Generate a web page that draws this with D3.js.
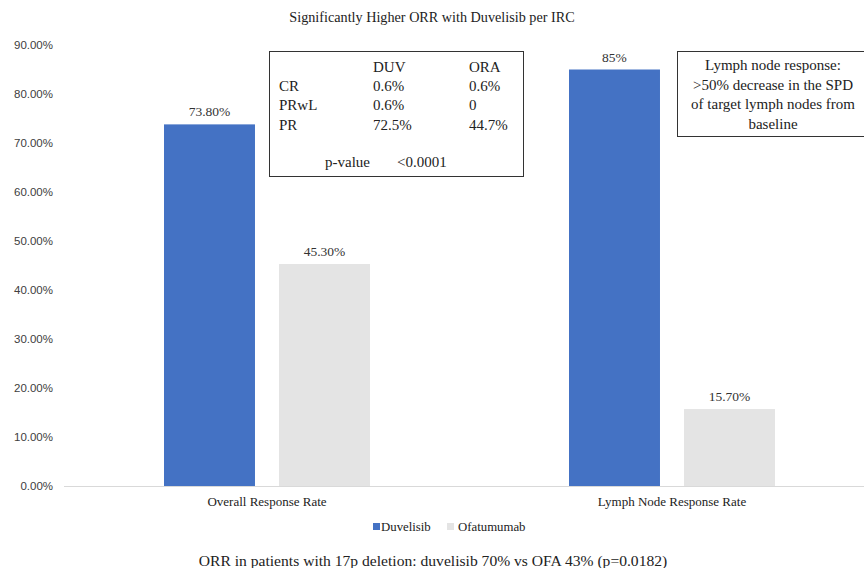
<!DOCTYPE html>
<html>
<head>
<meta charset="utf-8">
<script src="https://cdn.jsdelivr.net/npm/d3@7"></script>
<style>
body{margin:0;background:#fff}
svg{display:block}
</style>
</head>
<body>
<svg id="chart" width="864" height="568"></svg>
<script>
// chart data
var categories = ['Overall Response Rate', 'Lymph Node Response Rate']
var series = ['Duvelisib', 'Ofatumumab']
var duvelisib = [0.738, 0.85]
var ofatumumab = [0.453, 0.157]
var valueLabels = [['73.80%', '45.30%'], ['85%', '15.70%']]
var yTicks = [0, 0.1, 0.2, 0.3, 0.4, 0.5, 0.6, 0.7, 0.8, 0.9]
var tableHead = ['', 'DUV', 'ORA']
var tableRows = [['CR', '0.6%', '0.6%'], ['PRwL', '0.6%', '0'], ['PR', '72.5%', '44.7%']]
var pValue = ['p-value', '<0.0001']
var noteLines = ['Lymph node response:', '>50% decrease in the SPD', 'of target lymph nodes from', 'baseline']
var title = 'Significantly Higher ORR with Duvelisib per IRC'
var footer = 'ORR in patients with 17p deletion: duvelisib 70% vs OFA 43% (p=0.0182)'

var SERIF = '"Liberation Serif", "Times New Roman", Times, serif'

function draw(){
	var svg = d3.select('svg#chart')
	var colors = {Duvelisib: '#4472c4', Ofatumumab: '#e4e4e4'}

	var y = d3.scaleLinear()
		.domain([0, 0.9])
		.range([486, 45])
	var x = d3.scaleBand()
		.domain(categories)
		.range([64.5, 874.5])
	var xs = d3.scaleBand()
		.domain(series)
		.range([99.5, 305.5])
		.paddingInner(0.209)

	var rows = categories.map(function(c, i){
		return {cat: c, vals: [duvelisib[i], ofatumumab[i]], labels: valueLabels[i]}
	})

	function stext(sel, size){
		return sel.style('font-family', SERIF).style('font-size', size).style('fill', '#222')
	}

	// title
	svg.append('text')
		.attr('x', 432).attr('y', 22)
		.attr('text-anchor', 'middle')
		.call(stext, '14.2px')
		.text(title)

	// y axis labels
	var yAxis = d3.axisLeft(y)
		.tickValues(yTicks)
		.tickFormat(d3.format('.2%'))
		.tickSize(0)
		.tickPadding(0)
	var ga = svg.append('g')
		.attr('transform', 'translate(53,0)')
		.call(yAxis)
	ga.select('.domain').remove()
	ga.selectAll('text')
		.style('font-family', '"Liberation Sans", Arial, sans-serif')
		.style('font-size', '11.5px')
		.style('fill', '#404040')

	// bars
	var groups = svg.selectAll('g.cat')
		.data(rows)
		.enter()
		.append('g')
		.attr('class', 'cat')
		.attr('transform', function(d){return 'translate(' + x.step() * categories.indexOf(d.cat) + ',0)'})

	function barData(d){
		return d.vals.map(function(v, j){return {s: series[j], v: v, label: d.labels[j]}})
	}

	groups.selectAll('rect')
		.data(barData)
		.enter()
		.append('rect')
		.attr('x', function(d){return x.range()[0] + xs(d.s)})
		.attr('width', xs.bandwidth())
		.attr('y', function(d){return y(d.v)})
		.attr('height', function(d){return y(0) - y(d.v)})
		.style('fill', function(d){return colors[d.s]})

	groups.selectAll('text.val')
		.data(barData)
		.enter()
		.append('text')
		.attr('class', 'val')
		.attr('x', function(d){return x.range()[0] + xs(d.s) + xs.bandwidth() / 2})
		.attr('y', function(d){return y(d.v) - 8})
		.attr('text-anchor', 'middle')
		.call(stext, '13.5px')
		.style('fill', '#333')
		.text(function(d){return d.label})

	// baseline
	svg.append('line')
		.attr('x1', 64).attr('x2', 864)
		.attr('y1', y(0) + 0.5).attr('y2', y(0) + 0.5)
		.style('stroke', '#d9d9d9')
		.style('stroke-width', 1)

	// category labels
	svg.selectAll('text.catlab')
		.data(categories)
		.enter()
		.append('text')
		.attr('class', 'catlab')
		.attr('x', function(d){return x(d) + x.bandwidth() / 2})
		.attr('y', 506)
		.attr('text-anchor', 'middle')
		.call(stext, '13px')
		.text(function(d){return d})

	// legend
	var legX = [373, 447]
	var lg = svg.selectAll('g.leg')
		.data(series)
		.enter()
		.append('g')
		.attr('class', 'leg')
		.attr('transform', function(d, i){return 'translate(' + legX[i] + ',523)'})
	lg.append('rect')
		.attr('width', 7).attr('height', 7)
		.style('fill', function(d){return colors[d]})
	lg.append('text')
		.attr('x', function(d, i){return i === 0 ? 8 : 11})
		.attr('y', 8)
		.call(stext, '12.8px')
		.text(function(d){return d})

	// table box
	svg.append('rect')
		.attr('x', 269.5).attr('y', 51.5)
		.attr('width', 254).attr('height', 125)
		.style('fill', '#fff')
		.style('stroke', '#333')
	var colX = [279, 373, 469]
	var rowY = [72, 91, 110, 130]
	var all = [tableHead].concat(tableRows)
	all.forEach(function(r, i){
		r.forEach(function(c, j){
			svg.append('text')
				.attr('x', colX[j]).attr('y', rowY[i])
				.call(stext, '15px')
				.text(c)
		})
	})
	svg.append('text')
		.attr('x', 325).attr('y', 167)
		.call(stext, '15px')
		.text(pValue[0])
	svg.append('text')
		.attr('x', 397).attr('y', 167)
		.call(stext, '15px')
		.text(pValue[1])

	// note box
	svg.append('rect')
		.attr('x', 677.5).attr('y', 51.5)
		.attr('width', 200).attr('height', 85)
		.style('fill', '#fff')
		.style('stroke', '#333')
	svg.selectAll('text.note')
		.data(noteLines)
		.enter()
		.append('text')
		.attr('class', 'note')
		.attr('x', 773)
		.attr('y', function(d, i){return 70 + i * 19.5})
		.attr('text-anchor', 'middle')
		.call(stext, '15px')
		.text(function(d){return d})

	// footer
	svg.append('text')
		.attr('x', 433).attr('y', 566)
		.attr('text-anchor', 'middle')
		.call(stext, '15.6px')
		.text(footer)
}
draw()
</script>
</body>
</html>
